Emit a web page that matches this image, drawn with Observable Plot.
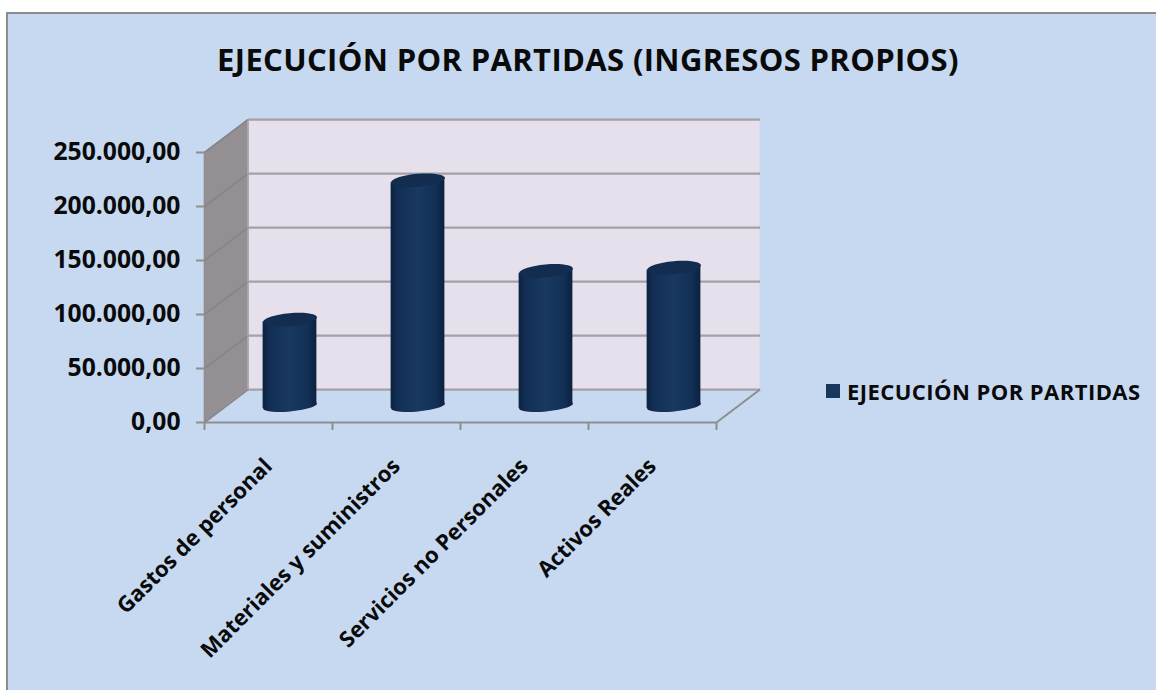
<!DOCTYPE html>
<html><head><meta charset="utf-8">
<script src="https://cdn.jsdelivr.net/npm/d3@7"></script>
<script src="https://cdn.jsdelivr.net/npm/@observablehq/plot@0.6"></script>
<style>
html,body{margin:0;padding:0;background:#fff;width:1156px;height:690px;overflow:hidden}
#frame{position:absolute;left:6px;top:12px;width:1150px;height:678px;background:#c6d9f1;border-left:2.5px solid #8c8c8c;border-top:2.5px solid #8c8c8c;box-sizing:border-box}
#title{position:absolute;left:0;top:39px;width:1176px;text-align:center;font:700 31px "Open Sans",sans-serif;letter-spacing:.35px;line-height:40px;color:#0a0a0a;box-sizing:border-box}
#chart{position:absolute;left:0;top:80px}
#legend{position:absolute;left:826px;top:378px;display:flex;align-items:center;font:700 22px "Open Sans",sans-serif;letter-spacing:.45px;color:#0a0a0a;line-height:26px;white-space:nowrap}
#legend i{display:inline-block;width:14px;height:14px;background:#17375e;margin-right:7px}
svg text{font-family:"Open Sans",sans-serif;font-weight:700}
</style></head>
<body>
<div id="frame"></div>
<div id="title">EJECUCIÓN POR PARTIDAS (INGRESOS PROPIOS)</div>
<div id="chart"></div>
<div id="legend"><i></i><span>EJECUCIÓN POR PARTIDAS</span></div>
<script>
const categories = ["Gastos de personal","Materiales y suministros","Servicios no Personales","Activos Reales"];
const values = [80000, 209000, 125000, 128000];
const yTicks = [0, 50000, 100000, 150000, 200000, 250000];
const xEdges = [0, 1, 2, 3, 4];

// Oblique depth of the 3D box, in scale units and in pixels
const depthX = 0.34, depthY = 30500;
const pxX = 21.5, pxY = -16.5;
const halfWidth = 0.21, tilt = 2300;

const fmt = d3.formatLocale({decimal:",",thousands:".",grouping:[3],currency:["",""]}).format(",.2f");
const rows = categories.map((c,i)=>({c,i,v:values[i],x:i+0.5}));

function ellipseSymbol(ratio, angle){
  return {draw(ctx,size){
    const rx=Math.sqrt(size/Math.PI), ry=rx*ratio, k=0.5523;
    const c=Math.cos(angle), s=Math.sin(angle);
    const p=(x,y)=>[x*c-y*s,x*s+y*c];
    const B=(a,b,d,e,f,g)=>ctx.bezierCurveTo(...p(a,b),...p(d,e),...p(f,g));
    ctx.moveTo(...p(rx,0));
    B(rx,k*ry,k*rx,ry,0,ry); B(-k*rx,ry,-rx,k*ry,-rx,0);
    B(-rx,-k*ry,-k*rx,-ry,0,-ry); B(k*rx,-ry,rx,-k*ry,rx,0);
    ctx.closePath();
  }};
}

const defs = () => {
  const d = d3.create("svg:defs");
  const g = d.append("linearGradient").attr("id","cyl");
  [[0,"#0c2340"],[0.12,"#122e54"],[0.5,"#193960"],[0.85,"#132f55"],[1,"#0b213d"]]
    .forEach(([o,c])=>g.append("stop").attr("offset",o).attr("stop-color",c));
  return d.node();
};

const body = rows.flatMap(r=>[
  {c:r.c,x:r.x-halfWidth,y1:-tilt,y2:r.v-tilt},
  {c:r.c,x:r.x+halfWidth,y1:tilt,y2:r.v+tilt}
]);

const gridColor="#a3a1a5", axisColor="#8e8e8e", sideColor="#858487";

const plot = Plot.plot({
  width:1156, height:610,
  marginLeft:204, marginRight:440, marginTop:72, marginBottom:268,
  style:{background:"transparent",overflow:"visible",fontSize:"20px"},
  x:{type:"linear",domain:[0,4],axis:null},
  y:{domain:[0,250000],axis:null},
  marks:[
    defs,
    Plot.rect([0],{x1:depthX,x2:4+depthX,y1:depthY,y2:250000+depthY,fill:"#e6e0ec"}),
    Plot.areaY([0,depthX],{x:d=>d,y1:d=>d/depthX*depthY,y2:d=>250000+d/depthX*depthY,fill:"#948f93"}),
    Plot.link(yTicks,{x1:()=>0,x2:()=>depthX,y1:d=>d,y2:d=>d+depthY,stroke:sideColor,strokeWidth:1.6}),
    Plot.link(yTicks,{x1:()=>depthX,x2:()=>4+depthX,y1:d=>d+depthY,y2:d=>d+depthY,stroke:gridColor,strokeWidth:2.2}),
    Plot.link([0],{x1:()=>depthX,x2:()=>depthX,y1:()=>depthY,y2:()=>250000+depthY,stroke:gridColor,strokeWidth:1.6}),
    Plot.link([0],{x1:()=>4,x2:()=>4+depthX,y1:()=>0,y2:()=>depthY,stroke:axisColor,strokeWidth:2}),
    Plot.ruleY([0],{stroke:axisColor,strokeWidth:2}),
    Plot.ruleX([0],{stroke:axisColor,strokeWidth:1.6}),
    Plot.axisY({ticks:yTicks,tickFormat:fmt,tickSize:8,tickPadding:16,stroke:axisColor,strokeWidth:2,fill:"#0a0a0a",fontSize:24.7,label:null}),
    Plot.axisX({ticks:xEdges,tickFormat:()=>"",tickSize:8,stroke:axisColor,strokeWidth:2,label:null}),
    Plot.axisX({ticks:rows.map(r=>r.x),tickFormat:d=>categories[d-0.5],tickSize:0,tickPadding:40,tickRotate:-45,stroke:"none",fill:"#0a0a0a",fontSize:22,label:null}),
    // cylinders
    Plot.dot(rows,{x:"x",y:()=>0,r:27,symbol:ellipseSymbol(0.2,-0.09),fill:"url(#cyl)",stroke:"none",dx:pxX,dy:pxY}),
    Plot.areaY(body,{x:"x",y1:"y1",y2:"y2",z:"c",fill:"url(#cyl)",dx:pxX,dy:pxY}),
    Plot.dot(rows,{x:"x",y:"v",r:27,symbol:ellipseSymbol(0.24,-0.09),fill:"#132d50",stroke:"none",dx:pxX,dy:pxY})
  ]
});
document.getElementById("chart").append(plot);
</script>
</body></html>
